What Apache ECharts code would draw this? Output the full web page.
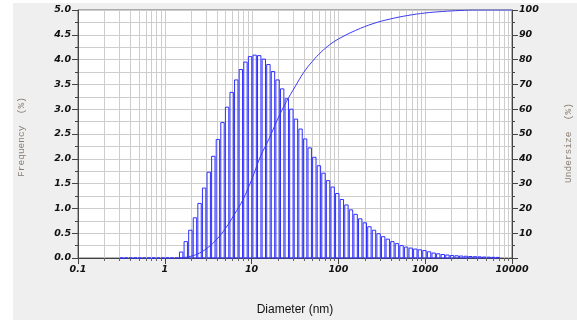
<!DOCTYPE html>
<html>
<head>
<meta charset="utf-8">
<script src="https://cdn.jsdelivr.net/npm/echarts@6/dist/echarts.min.js"></script>
<style>
html,body{margin:0;padding:0;background:#fff;}
#chart{width:577px;height:320px;}
</style>
</head>
<body>
<div id="chart"></div>
<script>
// Bin centre diameters (nm)
const diameters = [
  0.317, 0.358, 0.405, 0.457, 0.516, 0.583, 0.658, 0.744, 0.840, 0.949, 1.071, 1.210, 1.367,
  1.544, 1.744, 1.970, 2.225, 2.513, 2.839, 3.206, 3.622, 4.091, 4.621,
  5.219, 5.895, 6.659, 7.521, 8.495, 9.595, 10.84, 12.24, 13.83, 15.62,
  17.64, 19.92, 22.50, 25.42, 28.71, 32.43, 36.63, 41.37, 46.73, 52.78,
  59.62, 67.34, 76.06, 85.91, 97.04, 109.6, 123.8, 139.8, 157.9, 178.4,
  201.5, 227.6, 257.1, 290.4, 328.0, 370.4, 418.4, 472.6, 533.8, 602.9,
  681.0, 769.2, 868.8, 981.3, 1108, 1252, 1414, 1597, 1804, 2037,
  2301, 2599, 2936, 3316, 3746, 4231, 4779, 5397, 6096, 6886
];
// Frequency (%) per bin
const frequency = [
  0, 0, 0, 0, 0, 0, 0, 0, 0, 0, 0, 0, 0,
  0.12, 0.33, 0.56, 0.81, 1.10, 1.41, 1.73, 2.05, 2.39, 2.73,
  3.04, 3.34, 3.59, 3.80, 3.95, 4.06, 4.09, 4.08, 4.01, 3.90,
  3.76, 3.59, 3.41, 3.21, 3.00, 2.80, 2.60, 2.40, 2.22, 2.03,
  1.86, 1.71, 1.56, 1.43, 1.30, 1.18, 1.07, 0.97, 0.88, 0.79,
  0.71, 0.63, 0.56, 0.49, 0.43, 0.38, 0.33, 0.29, 0.25, 0.22,
  0.20, 0.18, 0.165, 0.15, 0.125, 0.10, 0.085, 0.07, 0.06, 0.05,
  0.045, 0.04, 0.035, 0.03, 0.027, 0.023, 0.02, 0.017, 0.014, 0.012
];
// Cumulative undersize curve (%)
const cumDiameter = [1.41, 1.585, 1.995, 2.512, 3.162, 3.981, 5.012, 6.310, 7.943, 10, 12.59, 15.85,
  19.95, 25.12, 31.62, 39.81, 50.12, 63.10, 79.43, 100, 158.5, 251.2, 398.1, 631, 1000, 1585, 2512, 3981, 10000];
const undersize = [0, 0.1, 0.7, 2.0, 4.3, 7.6, 12.0, 17.5, 23.5, 31.5, 40.8, 48.0,
  56.0, 63.0, 69.0, 74.8, 79.3, 83.0, 86.0, 88.3, 91.8, 94.5, 96.4, 97.8, 98.8, 99.4, 99.8, 100, 100];
const xTickLabels = ['0.1', '1', '10', '100', '1000', '10000'];
const decades = [0.1, 1, 10, 100, 1000];
const multiples = [1, 2, 3, 4, 5, 6, 7, 8, 9];

// bin edges (geometric midpoints)
const edges = [];
for (let i = 0; i <= diameters.length; i++) {
  if (i === 0) edges.push(diameters[0] * Math.sqrt(diameters[0] / diameters[1]));
  else if (i === diameters.length) {
    const n = diameters.length;
    edges.push(diameters[n - 1] * Math.sqrt(diameters[n - 1] / diameters[n - 2]));
  } else edges.push(Math.sqrt(diameters[i - 1] * diameters[i]));
}
const barData = diameters.map((d, i) => [d, frequency[i], edges[i], edges[i + 1]]);
const gridData = [];
decades.forEach(dec => multiples.forEach(m => gridData.push([dec * m, 0, m])));
gridData.push([10000, 0, 1]);

const labelFont = {fontFamily: 'DejaVu Sans', fontWeight: 'bold', fontStyle: 'italic', fontSize: 9.5, color: '#111'};
const axisCol = '#444';

const chart = echarts.init(document.getElementById('chart'), null, {renderer: 'canvas'});
chart.setOption({
  backgroundColor: '#efefef',
  animation: false,
  graphic: [
    {type: 'rect', shape: {x: 0, y: 0, width: 13, height: 320}, style: {fill: '#fff'}, silent: true},
    {type: 'rect', shape: {x: 0, y: 0, width: 577, height: 3}, style: {fill: '#fff'}, silent: true},
    {type: 'text', x: 21, y: 137, rotation: Math.PI / 2,
      style: {text: 'Frequency  (%)', font: '9.5px "Liberation Mono"', fill: '#8a7f72', textAlign: 'center', textVerticalAlign: 'middle'}},
    {type: 'text', x: 568, y: 143, rotation: Math.PI / 2,
      style: {text: 'Undersize  (%)', font: '9.5px "Liberation Mono"', fill: '#8a7f72', textAlign: 'center', textVerticalAlign: 'middle'}}
  ],
  grid: {left: 78, right: 65, top: 10, bottom: 62, show: true, backgroundColor: '#fff', borderColor: '#666', borderWidth: 1,
    containLabel: false, outerBoundsMode: 'none'},
  xAxis: {
    type: 'log', logBase: 10, min: 0.1, max: 10000,
    name: 'Diameter (nm)', nameLocation: 'middle', nameGap: 46,
    nameTextStyle: {fontFamily: 'Liberation Sans', fontSize: 12, color: '#111'},
    axisLine: {lineStyle: {color: axisCol}},
    axisTick: {length: 6, lineStyle: {color: axisCol}},
    splitLine: {show: false},
    axisLabel: Object.assign({margin: 7, formatter: v => xTickLabels[Math.round(Math.log10(v)) + 1]}, labelFont)
  },
  yAxis: [
    {
      type: 'value', min: 0, max: 5, interval: 0.5, position: 'left',
      axisLine: {show: true, lineStyle: {color: axisCol}},
      axisTick: {show: true, length: 6, lineStyle: {color: axisCol}},
      minorTick: {show: true, splitNumber: 2, length: 3, lineStyle: {color: axisCol}},
      splitLine: {show: true, lineStyle: {color: '#cdcdcd'}},
      minorSplitLine: {show: true, lineStyle: {color: '#cdcdcd'}},
      axisLabel: Object.assign({margin: 7, formatter: v => v.toFixed(1)}, labelFont)
    },
    {
      type: 'value', min: 0, max: 100, interval: 10, position: 'right',
      axisLine: {show: true, lineStyle: {color: axisCol}},
      axisTick: {show: true, length: 6, lineStyle: {color: axisCol}},
      minorTick: {show: true, splitNumber: 2, length: 3, lineStyle: {color: axisCol}},
      splitLine: {show: false},
      axisLabel: Object.assign({margin: 7, formatter: v => v === 0 ? '' : String(v)}, labelFont)
    }
  ],
  series: [
    {
      type: 'custom', z: 1, silent: true, clip: false,
      encode: {x: 0, y: 1},
      data: gridData,
      renderItem: function (params, api) {
        const v = api.value(0);
        const top = api.coord([v, 5]);
        const bot = api.coord([v, 0]);
        const children = [];
        if (v > 0.1 && v < 10000) {
          children.push({type: 'line', shape: {x1: Math.round(top[0]) + 0.5, y1: top[1], x2: Math.round(top[0]) + 0.5, y2: bot[1]},
            style: {stroke: '#cdcdcd', lineWidth: 1}});
        }
        if (api.value(2) !== 1) {
          children.push({type: 'line', shape: {x1: Math.round(bot[0]) + 0.5, y1: bot[1], x2: Math.round(bot[0]) + 0.5, y2: bot[1] + 3},
            style: {stroke: '#666', lineWidth: 1}});
        }
        return {type: 'group', children: children};
      }
    },
    {
      type: 'custom', z: 2, silent: true,
      encode: {x: 0, y: 1},
      data: barData,
      renderItem: function (params, api) {
        const f = api.value(1);
        const pl = api.coord([api.value(2), f]);
        const pr = api.coord([api.value(3), 0]);
        return {
          type: 'rect',
          shape: {x: pl[0] + 0.6, y: pl[1], width: Math.max(pr[0] - pl[0] - 1.2, 0.5), height: pr[1] - pl[1]},
          style: {fill: 'rgba(0,0,0,0)', stroke: '#2f2fff', lineWidth: 1}
        };
      }
    },
    {
      type: 'line', yAxisIndex: 1, z: 3, silent: true,
      data: cumDiameter.map((d, i) => [d, undersize[i]]),
      smooth: 0.4, showSymbol: false,
      lineStyle: {color: '#3a3af0', width: 1}
    }
  ]
});
</script>
</body>
</html>
